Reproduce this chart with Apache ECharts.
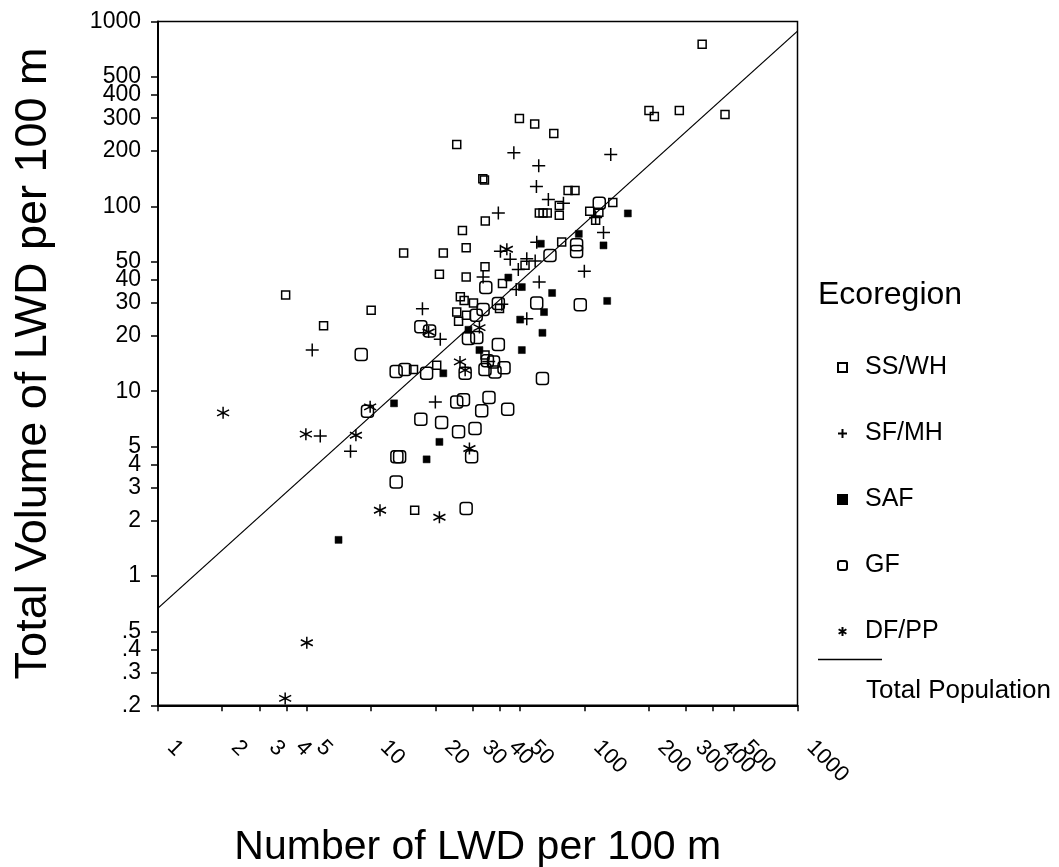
<!DOCTYPE html>
<html><head><meta charset="utf-8">
<script src="https://cdn.jsdelivr.net/npm/echarts@6/dist/echarts.min.js"></script>
<style>html,body{margin:0;padding:0;background:#fff}#c{width:1059px;height:867px}</style>
</head><body><div id="c"></div>
<script>
const xTicks = [1,2,3,4,5,10,20,30,40,50,100,200,300,400,500,1000];
const yTicks = [0.2,0.3,0.4,0.5,1,2,3,4,5,10,20,30,40,50,100,200,300,400,500,1000];

const SS_WH = [[357,754],[201,330],[213,306],[279,330],[457,314],[49.6,299],[58.5,279],[71.9,248],[25.2,216],
  [33.4,141],[34,139],[83.9,122],[90.4,122],[76.3,101],[136,105],[106,94],[117,93],[61.5,92],[64,92],[67,92],
  [76.3,89.4],[113,84],[34.3,83.3],[26.8,74],[27.9,59.8],[14.2,56],[21.8,56],[78.3,64.1],[34.2,47.2],[52.7,48],
  [20.9,42.9],[27.9,41.5],[41.3,38.2],[3.97,33.2],[26.2,32.4],[27.3,31.0],[30.2,30.0],[10,27.4],[25.2,26.8],
  [28,25.8],[25.7,23.9],[5.98,22.6],[40,28],[34.2,15.7],[15.8,13.1],[20.3,13.8],[16,2.27]];
const SF_MH = [[46.7,195],[133,191],[61.1,166],[59.6,128],[67.8,109],[79.8,104],[39.5,92],[113,87],[123,72.3],
  [40.4,57.1],[44.9,51.8],[59.8,63.9],[53.7,52.1],[58.8,50.7],[49,45.5],[100,44.5],[33.5,41.5],[47.9,35.5],
  [61.4,39],[17.4,27.9],[41,29.5],[53.7,24.7],[21.1,19.1],[5.29,16.7],[35.6,14.5],[20,8.75],[5.77,5.72],[8,4.74]];
const SAF = [[160,91.6],[94.2,71],[123,61.5],[62.5,62.8],[44,41.2],[50.9,36.6],[70.6,34],[64.7,26.8],[128,30.8],
  [50,24.4],[63.6,20.7],[28.6,21.5],[32.2,16.7],[50.9,16.7],[21.8,12.5],[12.8,8.6],[20.9,5.32],[18.2,4.28],[7.03,1.57]];
const GF = [[117.5,104],[92,62],[92,57],[69,54.3],[34.5,36.4],[59.8,30],[95.7,29.4],[33.5,27.7],[39.5,29.8],
  [31.1,25.8],[28.6,19.3],[31.3,19.5],[17.1,22.3],[18.8,21.2],[8.98,15.8],[13.1,12.8],[14.4,13.1],[18.2,12.5],
  [39.5,17.9],[35.1,14.6],[37.5,14.4],[34.2,13.1],[38.1,12.7],[42,13.4],[27.6,12.5],[63.6,11.7],[9.61,7.8],
  [25.2,8.75],[27.1,9.0],[35.7,9.25],[17.1,7.06],[21.4,6.77],[25.7,6.03],[30.7,6.29],[33,7.83],[43.7,8.0],
  [13.2,4.42],[13.6,4.42],[29.6,4.42],[13.1,3.23],[27.9,2.32]];
const DF_PP = [[43.3,58.6],[18.6,20.9],[32.2,22.1],[26.1,14.4],[27.6,13.0],[2.02,7.64],[9.89,8.23],[4.94,5.86],
  [8.48,5.78],[28.9,4.9],[11,2.27],[20.9,2.08],[4.99,0.436],[3.95,0.218]];
const FIT_LINE = [[1,0.671],[1000,887]];

const FONT = "'Liberation Sans', Arial, sans-serif";
const PLUS = 'path://M5,0L5,10M0,5L10,5';
const STAR = 'path://M5,0L5,10M0.67,2.5L9.33,7.5M0.67,7.5L9.33,2.5';

const chart = echarts.init(document.getElementById('c'), null, {renderer:'canvas'});
function sc(name, data, symbol, size, fill, bw) {
  return {name, type:'scatter', data, symbol, symbolSize:size, silent:true,
    itemStyle:{color:fill, borderColor:'#000', borderWidth:bw, opacity:1}, emphasis:{disabled:true}};
}
chart.setOption({
  animation:false,
  backgroundColor:'#fff',
  textStyle:{fontFamily:FONT},
  grid:{left:158, right:261.5, top:21.5, bottom:161.7, show:true, borderColor:'#000', borderWidth:1.5,
    backgroundColor:'transparent', containLabel:false, outerBoundsMode:'none'},
  xAxis:{type:'log', logBase:10, min:1, max:1000,
    name:'Number of LWD per 100 m', nameLocation:'middle', nameGap:122,
    nameTextStyle:{fontSize:41, color:'#000', fontFamily:FONT},
    axisLine:{show:true, lineStyle:{color:'#000', width:2}},
    axisTick:{show:true, length:6, customValues:xTicks, lineStyle:{color:'#000', width:1.5}},
    axisLabel:{customValues:xTicks, rotate:-45, margin:26, fontSize:22, color:'#000', fontFamily:FONT,
      padding:[0,0,0,18], formatter:v=>String(Math.round(v))},
    splitLine:{show:false}, minorTick:{show:false}},
  yAxis:{type:'log', logBase:10, min:0.2, max:1000,
    name:'Total Volume of LWD per 100 m', nameLocation:'middle', nameGap:102, nameRotate:90,
    nameTextStyle:{fontSize:45, color:'#000', fontFamily:FONT},
    axisLine:{show:true, lineStyle:{color:'#000', width:2}},
    axisTick:{show:true, length:7, customValues:yTicks, lineStyle:{color:'#000', width:1.5}},
    axisLabel:{customValues:yTicks, margin:17, fontSize:23, color:'#000', fontFamily:FONT,
      formatter:v=> v<1 ? '.'+Math.round(v*10) : String(Math.round(v))},
    splitLine:{show:false}, minorTick:{show:false}},
  legend:{orient:'vertical', left:832, top:350, itemWidth:9, itemHeight:9, itemGap:41,
    data:['SS/WH','SF/MH','SAF','GF','DF/PP'],
    textStyle:{fontSize:25, color:'#000', fontFamily:FONT, lineHeight:24, padding:[0,0,0,13]},
    selectedMode:false},
  graphic:[
    {type:'text', left:818, top:279, style:{text:'Ecoregion', font:'32px '+FONT, fill:'#000'}},
    {type:'line', shape:{x1:818, y1:659.5, x2:882, y2:659.5}, style:{stroke:'#000', lineWidth:1.3}},
    {type:'text', left:866, top:678, style:{text:'Total Population', font:'26px '+FONT, fill:'#000'}}
  ],
  series:[
    sc('SS/WH', SS_WH, 'rect', 8, 'rgba(255,255,255,0)', 1.5),
    sc('SF/MH', SF_MH, PLUS, 13, 'rgba(255,255,255,0)', 1.5),
    sc('SAF', SAF, 'rect', 7, '#000', 0.5),
    sc('GF', GF, 'roundRect', 12, 'rgba(255,255,255,0)', 1.5),
    sc('DF/PP', DF_PP, STAR, 12, 'rgba(255,255,255,0)', 1.5),
    {name:'Total Population', type:'line', data:FIT_LINE, showSymbol:false, silent:true,
     lineStyle:{color:'#000', width:1.3}, emphasis:{disabled:true}}
  ]
});
</script></body></html>
